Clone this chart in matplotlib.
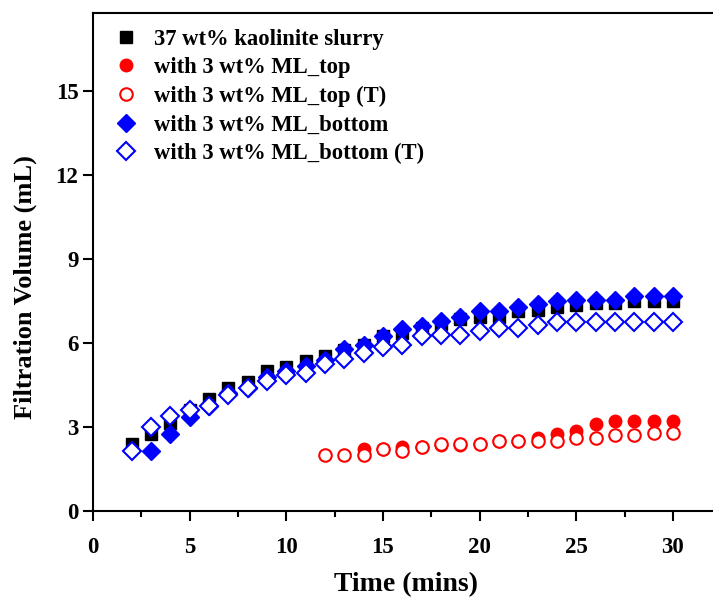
"""
plot.py
filtration volume vs time, kaolinite slurry with / without ML
"""

import matplotlib
matplotlib.use('Agg')
import matplotlib.pyplot as plt
from matplotlib.ticker import MultipleLocator

## data
T_KAO = list(range(2, 31))
V_KAO = [2.4, 2.75, 3.15, 3.6, 4.0, 4.4, 4.6, 5.0, 5.15, 5.35, 5.55, 5.75, 5.95, 6.25, 6.35,
         6.55, 6.7, 6.85, 6.95, 6.95, 7.15, 7.2, 7.3, 7.35, 7.45, 7.45, 7.5, 7.5, 7.5]

T_TOP = list(range(14, 31))
V_TOP = [2.2, 2.2, 2.3, 2.3, 2.35, 2.35, 2.4, 2.5, 2.5, 2.6, 2.75, 2.85, 3.1, 3.2, 3.2, 3.2, 3.2]

T_TOP_T = list(range(12, 31))
V_TOP_T = [2.0, 2.0, 2.0, 2.2, 2.15, 2.3, 2.4, 2.4, 2.4, 2.5, 2.5, 2.5, 2.5, 2.6, 2.6, 2.7, 2.7, 2.8, 2.8]

T_BOT = list(range(3, 31))
V_BOT = [2.15, 2.75, 3.35, 3.75, 4.2, 4.4, 4.8, 5.0, 5.2, 5.4, 5.8, 5.95, 6.25, 6.5, 6.6,
         6.8, 6.95, 7.15, 7.15, 7.3, 7.4, 7.5, 7.55, 7.55, 7.55, 7.7, 7.7, 7.7]

T_BOT_T = list(range(2, 31))
V_BOT_T = [2.15, 3.0, 3.4, 3.6, 3.75, 4.15, 4.4, 4.65, 4.85, 4.95, 5.25, 5.45, 5.65, 5.85, 5.95,
           6.25, 6.3, 6.3, 6.45, 6.55, 6.55, 6.65, 6.75, 6.75, 6.75, 6.75, 6.75, 6.75, 6.75]

LABELS = ['37 wt% kaolinite slurry', 'with 3 wt% ML_top', 'with 3 wt% ML_top (T)',
          'with 3 wt% ML_bottom', 'with 3 wt% ML_bottom (T)']


def plot_test():
    '''
    plot test
    '''
    plt.rcParams['font.family'] = 'Liberation Serif'
    plt.rcParams['font.weight'] = 'bold'

    fig = plt.figure(figsize=(7.13, 5.98), dpi=100)
    ## right spine sits just outside the figure, as in the reference
    ax = fig.add_axes([93/713, 87/598, 626/713, 498/598])

    ms = 9
    ax.plot(T_KAO, V_KAO, 's', color='black', markersize=ms, label=LABELS[0])
    ax.plot(T_TOP, V_TOP, 'o', color='red', markersize=ms, label=LABELS[1])
    ax.plot(T_TOP_T, V_TOP_T, 'o', markerfacecolor='white', markeredgecolor='red',
            markeredgewidth=1.5, markersize=ms, label=LABELS[2])
    ax.plot(T_BOT, V_BOT, 'D', color='blue', markersize=ms+0.5, label=LABELS[3])
    ax.plot(T_BOT_T, V_BOT_T, 'D', markerfacecolor='white', markeredgecolor='blue',
            markeredgewidth=1.5, markersize=ms, label=LABELS[4])

    ax.set_xlim(0, 626/19.33)
    ax.set_ylim(0, 17.8)
    ax.xaxis.set_major_locator(MultipleLocator(5))
    ax.xaxis.set_minor_locator(MultipleLocator(2.5))
    ax.yaxis.set_major_locator(MultipleLocator(3))

    for sp in ax.spines.values():
        sp.set_linewidth(1.5)
    ax.tick_params(which='major', direction='out', length=7, width=1.5, labelsize=16.5)
    ax.tick_params(which='minor', direction='out', length=4, width=1.5)
    ax.tick_params(axis='x', pad=12)

    ax.set_xlabel('Time (mins)', fontsize=20, fontweight='bold', labelpad=10)
    ax.set_ylabel('Filtration Volume (mL)', fontsize=19, fontweight='bold')
    ax.yaxis.set_label_coords(-0.09, 0.45)

    ax.legend(loc='upper left', frameon=False, fontsize=16.3, handletextpad=0.5,
              labelspacing=0.33, borderaxespad=0.3, handlelength=1.5)

    fig.savefig('out.png', dpi=100)
    return None


if __name__ == '__main__':
    plot_test()
